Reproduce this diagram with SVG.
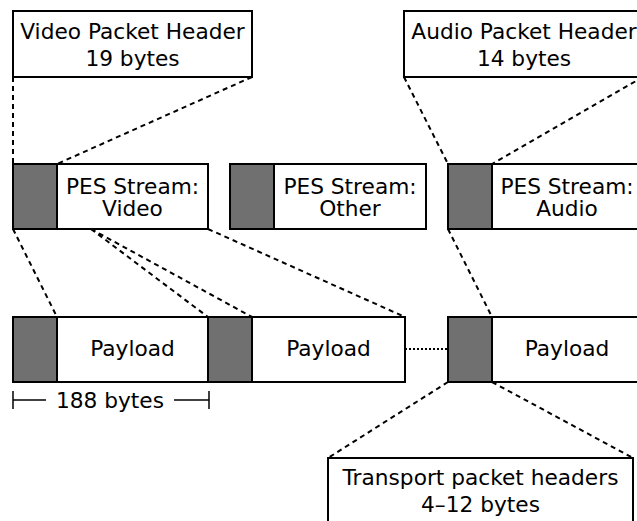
<svg xmlns="http://www.w3.org/2000/svg" width="637" height="521" viewBox="0 0 637 521">
  <style>
    .box { fill: #ffffff; stroke: #000000; stroke-width: 2; }
    .hdr { fill: #707070; stroke: #000000; stroke-width: 2; }
    .lbl { font-family: "DejaVu Sans", sans-serif; font-size: 21.7px; fill: #000000; text-anchor: middle; }
    .dash { fill: none; stroke: #000000; stroke-width: 2; stroke-dasharray: 5 4; }
    .dot { fill: none; stroke: #000000; stroke-width: 2; stroke-dasharray: 2 2; }
    .solid { fill: none; stroke: #000000; stroke-width: 1.5; }
  </style>
  <rect width="637" height="521" fill="#ffffff"/>

  <!-- connectors -->
  <g id="connectors">
    <line class="dash" x1="13" y1="77" x2="13" y2="164"/>
    <line class="dash" x1="252" y1="77" x2="57" y2="164"/>
    <line class="dash" x1="404" y1="77" x2="448" y2="164"/>
    <line class="dash" x1="643" y1="77" x2="492" y2="164"/>
    <line class="dash" x1="13" y1="229" x2="57" y2="317"/>
    <line class="dash" x1="91" y1="229" x2="208" y2="317"/>
    <line class="dash" x1="91" y1="229" x2="252" y2="317"/>
    <line class="dash" x1="208" y1="229" x2="405" y2="317"/>
    <line class="dash" x1="448" y1="229" x2="492" y2="317"/>
    <line class="dot" x1="405" y1="349" x2="448" y2="349"/>
    <line class="dash" x1="448" y1="382" x2="328" y2="458"/>
    <line class="dash" x1="492" y1="382" x2="633" y2="458"/>
  </g>

  <!-- top header boxes -->
  <g id="video-header">
    <rect class="box" x="13" y="11" width="239" height="66"/>
    <text class="lbl" x="132.5" y="39">Video Packet Header</text>
    <text class="lbl" x="132.5" y="66">19 bytes</text>
  </g>
  <g id="audio-header">
    <rect class="box" x="404" y="11" width="250" height="66"/>
    <text class="lbl" x="524" y="39">Audio Packet Header</text>
    <text class="lbl" x="524" y="66">14 bytes</text>
  </g>

  <!-- PES streams -->
  <g id="pes-video">
    <rect class="box" x="57" y="164" width="151" height="65"/>
    <rect class="hdr" x="13" y="164" width="44" height="65"/>
    <text class="lbl" x="132.5" y="194">PES Stream:</text>
    <text class="lbl" x="132.5" y="216">Video</text>
  </g>
  <g id="pes-other">
    <rect class="box" x="274" y="164" width="152" height="65"/>
    <rect class="hdr" x="230" y="164" width="44" height="65"/>
    <text class="lbl" x="350" y="194">PES Stream:</text>
    <text class="lbl" x="350" y="216">Other</text>
  </g>
  <g id="pes-audio">
    <rect class="box" x="492" y="164" width="160" height="65"/>
    <rect class="hdr" x="448" y="164" width="44" height="65"/>
    <text class="lbl" x="567" y="194">PES Stream:</text>
    <text class="lbl" x="567" y="216">Audio</text>
  </g>

  <!-- transport packets -->
  <g id="packet-1">
    <rect class="box" x="57" y="317" width="151" height="65"/>
    <rect class="hdr" x="13" y="317" width="44" height="65"/>
    <text class="lbl" x="132.5" y="356">Payload</text>
  </g>
  <g id="packet-2">
    <rect class="box" x="252" y="317" width="153" height="65"/>
    <rect class="hdr" x="208" y="317" width="44" height="65"/>
    <text class="lbl" x="328.5" y="356">Payload</text>
  </g>
  <g id="packet-3">
    <rect class="box" x="492" y="317" width="160" height="65"/>
    <rect class="hdr" x="448" y="317" width="44" height="65"/>
    <text class="lbl" x="567" y="356">Payload</text>
  </g>

  <!-- packet size dimension -->
  <g id="size-188">
    <line class="solid" x1="13" y1="391" x2="13" y2="409"/>
    <line class="solid" x1="209" y1="391" x2="209" y2="409"/>
    <line class="solid" x1="13" y1="400" x2="46" y2="400"/>
    <line class="solid" x1="174" y1="400" x2="209" y2="400"/>
    <text class="lbl" x="110" y="408">188 bytes</text>
  </g>

  <!-- transport header box -->
  <g id="transport-headers">
    <rect class="box" x="328" y="458" width="305" height="80"/>
    <text class="lbl" x="480.5" y="485">Transport packet headers</text>
    <text class="lbl" x="480.5" y="512">4–12 bytes</text>
  </g>
</svg>
